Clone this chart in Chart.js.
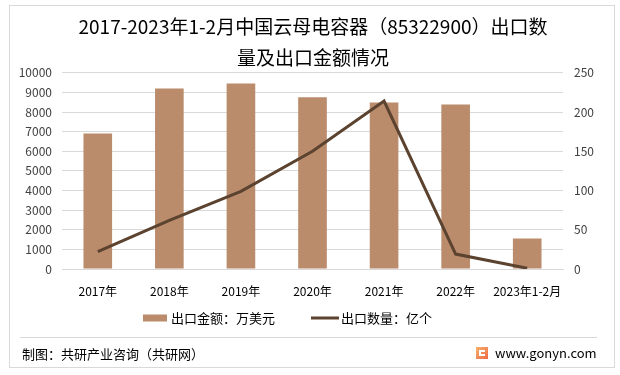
<!DOCTYPE html>
<html>
<head>
<meta charset="utf-8">
<script src="https://cdn.jsdelivr.net/npm/chart.js@4.4.1/dist/chart.umd.min.js"></script>
<style>
html,body{margin:0;padding:0;background:#fff;}
#wrap{width:620px;height:375px;position:relative;}
</style>
</head>
<body>
<div id="wrap"><canvas id="c" width="620" height="375"></canvas></div>
<script>
const categories = ['2017年','2018年','2019年','2020年','2021年','2022年','2023年1-2月'];
const exportValue = [6900, 9200, 9450, 8750, 8480, 8380, 1550];   // 万美元
const exportQty = [22, 62, 99, 150, 214, 19, 1];                  // 亿个
const leftTicks = [0,1000,2000,3000,4000,5000,6000,7000,8000,9000,10000];
const rightTicks = [0,50,100,150,200,250];
const titleLines = ['2017-2023年1-2月中国云母电容器（85322900）出口数','量及出口金额情况'];
const seriesNames = ['出口金额：万美元','出口数量：亿个'];
const sourceText = '制图：共研产业咨询（共研网）';
const siteText = 'www.gonyn.com';

const FONT = '"Noto Sans CJK SC", "Microsoft YaHei", sans-serif';
const BAR_COLOR = '#BA8C6C';
const LINE_COLOR = '#5B4330';
const GRID = '#D9D9D9';
const TICK = '#404040';

const decor = {
  id: 'decor',
  beforeDraw(chart) {
    const ctx = chart.ctx;
    ctx.save();
    ctx.fillStyle = '#fff';
    ctx.fillRect(0, 0, chart.width, chart.height);
    ctx.strokeStyle = '#D9D9D9';
    ctx.lineWidth = 1;
    ctx.strokeRect(9.5, 5.5, 605, 362);
    ctx.restore();
  },
  afterDraw(chart) {
    const ctx = chart.ctx;
    ctx.save();
    ctx.font = '13px ' + FONT;
    ctx.textBaseline = 'middle';
    const ly = 318;
    const ds = chart.data.datasets;
    const barDs = ds.find(d => d.type === 'bar');
    const lineDs = ds.find(d => d.type === 'line');
    // bar item
    ctx.fillStyle = barDs.backgroundColor;
    ctx.fillRect(143, ly - 3.5, 24, 7);
    ctx.fillStyle = '#000';
    ctx.textAlign = 'left';
    ctx.fillText(barDs.label, 171, ly);
    // line item
    ctx.strokeStyle = lineDs.borderColor;
    ctx.lineWidth = 3;
    ctx.beginPath();
    ctx.moveTo(311, ly);
    ctx.lineTo(339, ly);
    ctx.stroke();
    ctx.fillText(lineDs.label, 341, ly);
    // separator
    ctx.strokeStyle = '#D9D9D9';
    ctx.lineWidth = 1;
    ctx.beginPath();
    ctx.moveTo(20, 337.5);
    ctx.lineTo(597, 337.5);
    ctx.stroke();
    // source
    ctx.fillStyle = '#000';
    ctx.fillText(sourceText, 22, 354);
    ctx.textAlign = 'left';
    ctx.fillText(siteText, 495, 353);
    // icon
    const g = ctx.createLinearGradient(476, 347, 488, 359);
    g.addColorStop(0, '#F7B26A');
    g.addColorStop(1, '#EE6A4A');
    ctx.fillStyle = g;
    ctx.fillRect(476, 347, 12, 12);
    ctx.fillStyle = '#fff';
    ctx.fillRect(479, 350, 6, 2);
    ctx.fillRect(479, 350, 2, 6);
    ctx.fillRect(479, 354, 6, 2);
    ctx.restore();
  }
};

new Chart(document.getElementById('c'), {
  data: {
    labels: categories,
    datasets: [
      {
        type: 'line',
        label: seriesNames[1],
        data: exportQty,
        yAxisID: 'y1',
        borderColor: LINE_COLOR,
        backgroundColor: LINE_COLOR,
        borderWidth: 3,
        pointRadius: 0,
        tension: 0,
        order: 0
      },
      {
        type: 'bar',
        label: seriesNames[0],
        data: exportValue,
        yAxisID: 'y',
        backgroundColor: BAR_COLOR,
        barPercentage: 0.8,
        categoryPercentage: 0.5,
        order: 1
      }
    ]
  },
  options: {
    responsive: false,
    animation: false,
    devicePixelRatio: 1,
    layout: { padding: { left: 9, right: 3, top: 5, bottom: 76 } },
    plugins: {
      legend: { display: false },
      tooltip: { enabled: false },
      title: {
        display: true,
        text: titleLines,
        color: '#000',
        font: { family: FONT, size: 19, weight: 'normal', lineHeight: 1.6 },
        padding: { top: 7, bottom: 0 }
      }
    },
    scales: {
      x: {
        grid: { display: false, drawTicks: false },
        border: { display: true, color: GRID },
        ticks: { color: '#000', font: { family: FONT, size: 12 }, padding: 15, maxRotation: 0, autoSkip: false },
        afterFit(s) { s.height = 30; }
      },
      y: {
        position: 'left',
        min: 0, max: 10000,
        afterBuildTicks(s) { s.ticks = leftTicks.map(v => ({ value: v })); },
        grid: { color: GRID, drawTicks: false },
        border: { display: false },
        ticks: { color: TICK, font: { family: FONT, size: 12 }, padding: 10, callback: v => String(v) },
        afterFit(s) { s.width = 53; }
      },
      y1: {
        position: 'right',
        min: 0, max: 250,
        afterBuildTicks(s) { s.ticks = rightTicks.map(v => ({ value: v })); },
        grid: { display: false, drawTicks: false },
        border: { display: false },
        ticks: { color: TICK, font: { family: FONT, size: 12 }, padding: 11, callback: v => String(v) },
        afterFit(s) { s.width = 54; }
      }
    }
  },
  plugins: [decor]
});
</script>
</body>
</html>
